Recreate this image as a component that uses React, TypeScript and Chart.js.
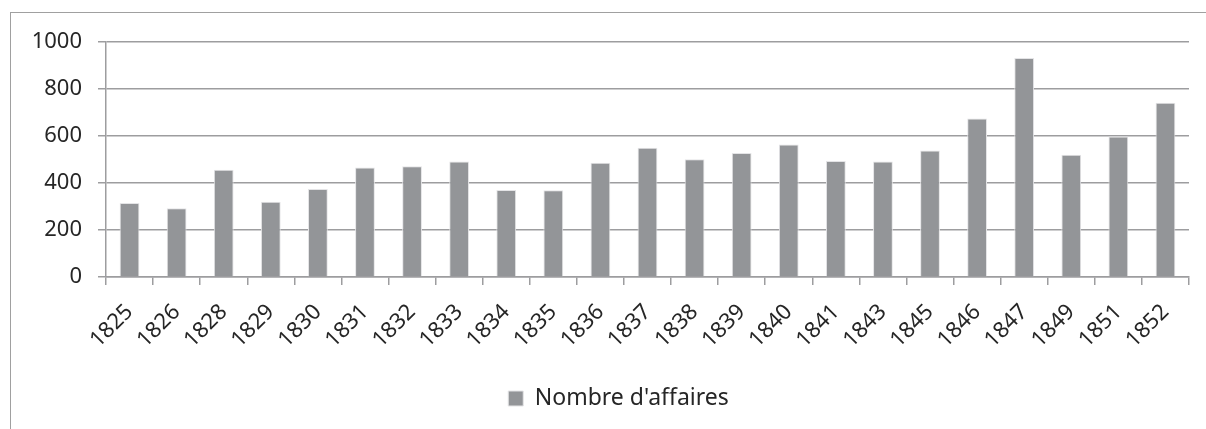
import React, { useEffect, useRef } from "react";
import { Chart, registerables } from "chart.js";

Chart.register(...registerables);

const years = ["1825","1826","1828","1829","1830","1831","1832","1833","1834","1835","1836","1837","1838","1839","1840","1841","1843","1845","1846","1847","1849","1851","1852"];
const affaires = [315, 293, 456, 320, 375, 466, 471, 491, 370, 369, 486, 550, 501, 528, 564, 494, 491, 538, 674, 932, 520, 598, 742];
const yTicks = [0, 200, 400, 600, 800, 1000];
const seriesLabel = "Nombre d'affaires";

const FONT = "'Noto Sans', 'Open Sans', sans-serif";
const TEXT = "#262626";
const GRID = "#9d9d9f";
const BAR = "#939598";

const legendShift = {
  id: "legendShift",
  afterLayout(chart: any) {
    const lg = chart.legend;
    if (lg) {
      lg.left += 16;
      lg.right += 16;
    }
  },
};

export default function App() {
  const ref = useRef<HTMLCanvasElement | null>(null);
  useEffect(() => {
    if (!ref.current) return;
    const chart = new Chart(ref.current, {
      type: "bar",
      data: {
        labels: years,
        datasets: [
          {
            label: seriesLabel,
            data: affaires,
            backgroundColor: BAR,
            borderColor: "#e4e4e6",
            borderWidth: 1,
            barPercentage: 0.42,
            categoryPercentage: 1,
          },
        ],
      },
      plugins: [legendShift],
      options: {
        responsive: false,
        animation: false,
        devicePixelRatio: 1,
        layout: { padding: { left: 16, right: 17, top: 42, bottom: 9 } },
        plugins: {
          tooltip: { enabled: false },
          legend: {
            position: "bottom",
            labels: {
              boxWidth: 15,
              boxHeight: 15,
              padding: 10,
              color: TEXT,
              font: { family: FONT, size: 23 },
            },
          },
        },
        scales: {
          x: {
            offset: true,
            grid: {
              offset: true,
              drawOnChartArea: false,
              drawTicks: true,
              tickLength: 8,
              color: GRID,
              lineWidth: 1.5,
            },
            border: { display: true, color: GRID, width: 1.5 },
            ticks: {
              minRotation: 45,
              maxRotation: 45,
              autoSkip: false,
              padding: 14,
              color: TEXT,
              font: { family: FONT, size: 22 },
            },
            afterFit: (s: any) => {
              s.height = 100;
            },
          },
          y: {
            min: 0,
            max: 1000,
            afterBuildTicks: (s: any) => {
              s.ticks = yTicks.map((v) => ({ value: v }));
            },
            grid: {
              color: GRID,
              lineWidth: 1.5,
              tickLength: 8,
            },
            border: { display: true, color: GRID, width: 1.5 },
            ticks: {
              padding: 16,
              color: TEXT,
              font: { family: FONT, size: 22 },
              callback: (v: any) => String(v),
            },
            afterFit: (s: any) => {
              s.width = 90;
            },
          },
        },
      },
    });
    return () => chart.destroy();
  }, []);
  return (
    <div>
      <div
        style={{
          position: "fixed",
          left: 10,
          top: 12,
          width: 1400,
          height: 600,
          borderLeft: "1px solid #a0a0a0",
          borderTop: "1px solid #a0a0a0",
          boxSizing: "border-box",
        }}
      />
      <canvas
        ref={ref}
        width={1206}
        height={429}
        style={{ position: "fixed", left: 0, top: 0, width: 1206, height: 429 }}
      />
    </div>
  );
}
